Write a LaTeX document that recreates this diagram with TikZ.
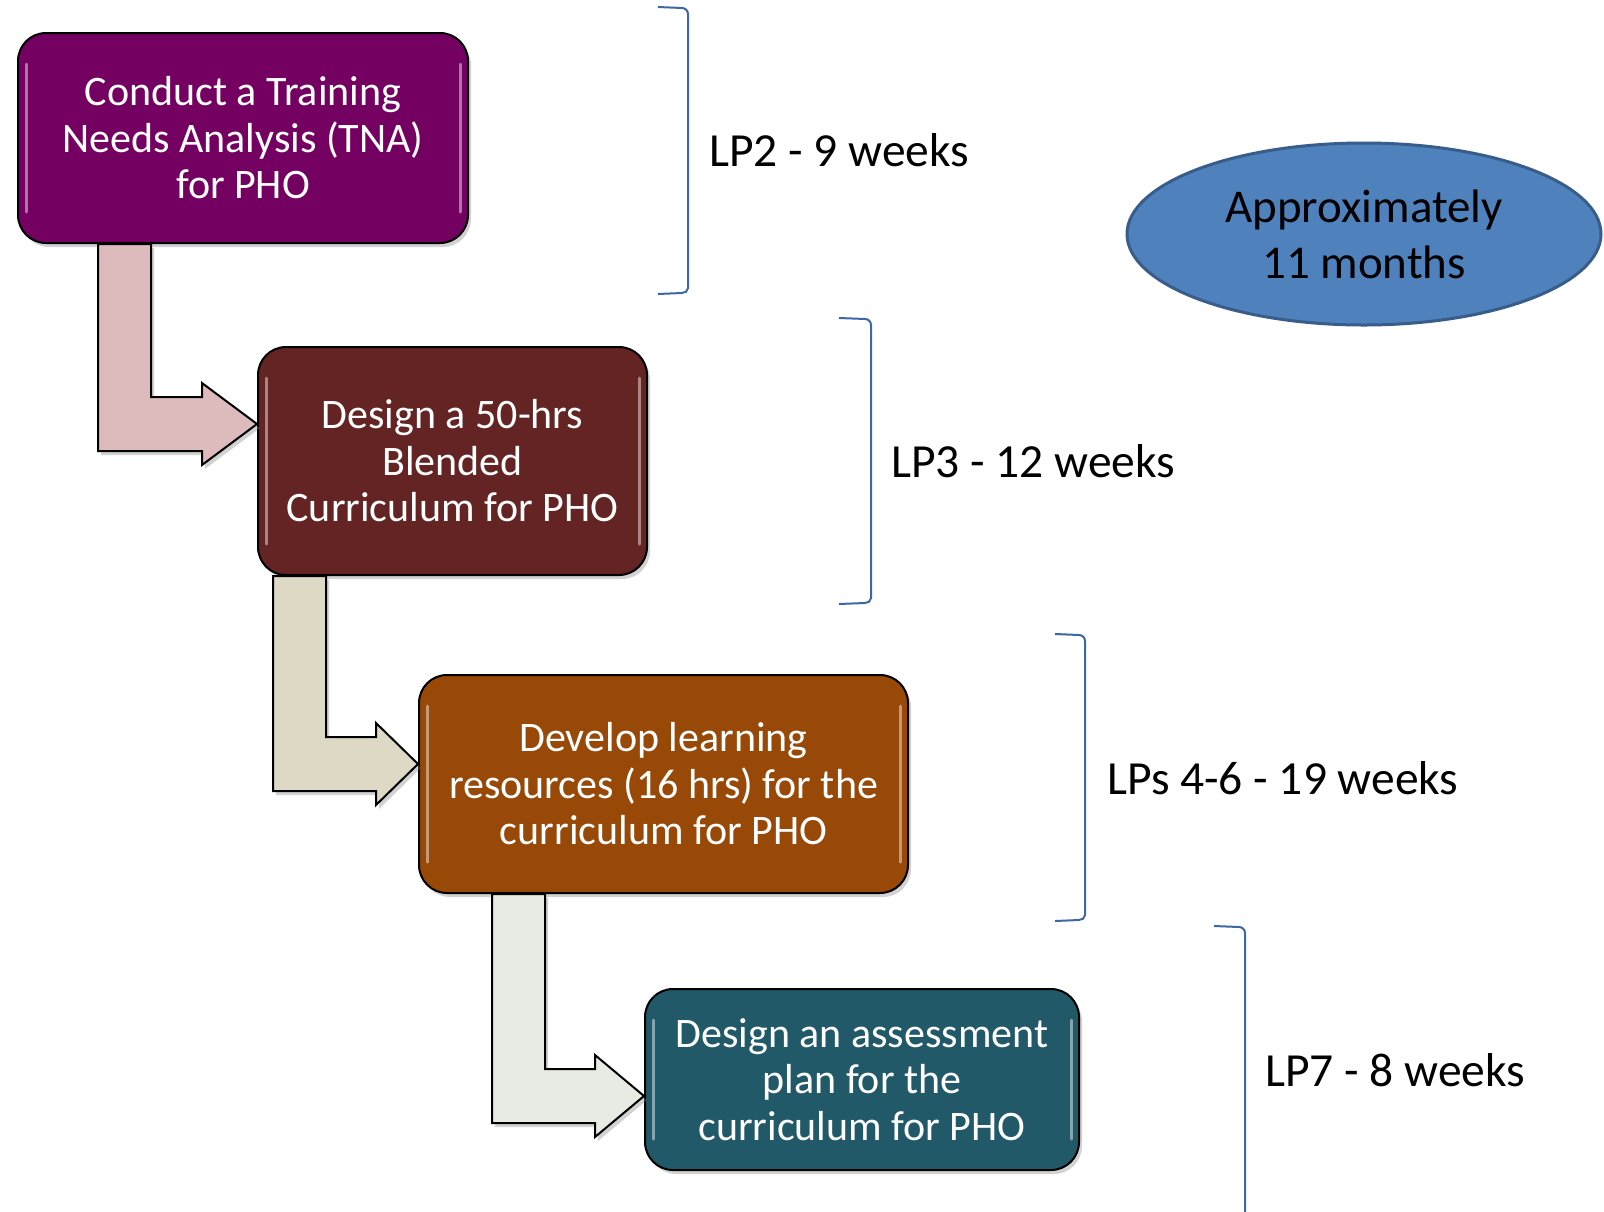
\documentclass[tikz,border=0pt]{standalone}
\usepackage{fontspec}
\setmainfont{Carlito}
\usetikzlibrary{shapes.geometric,shadows,calc}
\definecolor{boxA}{HTML}{740062}
\definecolor{boxB}{HTML}{632423}
\definecolor{boxC}{HTML}{984807}
\definecolor{boxD}{HTML}{215968}
\definecolor{arrA}{HTML}{DDBBBD}
\definecolor{arrB}{HTML}{DDD9C4}
\definecolor{arrC}{HTML}{E8EBE3}
\definecolor{ellF}{HTML}{4F81BD}
\definecolor{ellB}{HTML}{385D8A}
\definecolor{brk}{RGB}{62,104,165}
\begin{document}
\begin{tikzpicture}[x=1pt,y=-1pt,
  stepbox/.style={draw=black, line width=2pt, rounded corners=28pt, text=white,
    align=center, font=\fontsize{42}{46.5}\selectfont, inner sep=0pt,
    drop shadow={opacity=0.35,shadow xshift=3pt,shadow yshift=-4pt}},
  blockarrow/.style={draw=black, line width=2pt, line join=miter,
    drop shadow={opacity=0.35,shadow xshift=3pt,shadow yshift=-4pt}},
  gloss/.style={white, opacity=0.45, line width=3pt, line cap=round},
  bracket/.style={draw=brk, line width=2pt},
  lbl/.style={anchor=west, inner sep=0pt, font=\fontsize{47.5}{57}\selectfont}]
\useasboundingbox (0,0) rectangle (1604,1211);
\fill[white] (0,0) rectangle (1604,1211);

% boxes
\node[stepbox, fill=boxA, minimum width=450pt, minimum height=210pt] (b1) at (243,138)
  {Conduct a Training\\Needs Analysis (TNA)\\for PHO};
\node[stepbox, fill=boxB, minimum width=389pt, minimum height=228pt] (b2) at (452.5,461)
  {Design a 50-hrs\\Blended\\Curriculum for PHO};
\node[stepbox, fill=boxC, minimum width=489pt, minimum height=218pt] (b3) at (663.5,784)
  {Develop learning\\resources (16 hrs) for the\\curriculum for PHO};
\node[stepbox, fill=boxD, minimum width=434pt, minimum height=181pt] (b4) at (862,1079.5)
  {Design an assessment\\plan for the\\curriculum for PHO};

\foreach \b in {b1,b2,b3,b4}{
  \draw[gloss] ($(\b.north west)+(9,32)$) -- ($(\b.south west)+(9,-32)$);
  \draw[gloss] ($(\b.north east)+(-9,32)$) -- ($(\b.south east)+(-9,-32)$);
}

% block arrows
\coordinate (a1tip) at ($(b2.north west)+(0,78)$);
\coordinate (a1l) at ($(b1.south west)+(81,0)$);
\coordinate (a1r) at ($(b1.south west)+(134,0)$);
\draw[blockarrow, fill=arrA] (a1l) |- ($(a1tip)+(-55,27)$) -- ++(0,14) -- (a1tip)
  -- ($(a1tip)+(-55,-41)$) -- ++(0,14) -| (a1r) -- cycle;

\coordinate (a2tip) at ($(b3.north west)+(0,90)$);
\coordinate (a2l) at ($(b2.south west)+(16,0)$);
\coordinate (a2r) at ($(b2.south west)+(69,0)$);
\draw[blockarrow, fill=arrB] (a2l) |- ($(a2tip)+(-42,27)$) -- ++(0,14) -- (a2tip)
  -- ($(a2tip)+(-42,-41)$) -- ++(0,14) -| (a2r) -- cycle;

\coordinate (a3tip) at ($(b4.north west)+(0,108)$);
\coordinate (a3l) at ($(b3.south west)+(74,0)$);
\coordinate (a3r) at ($(b3.south west)+(127,0)$);
\draw[blockarrow, fill=arrC] (a3l) |- ($(a3tip)+(-49,27)$) -- ++(0,14) -- (a3tip)
  -- ($(a3tip)+(-49,-41)$) -- ++(0,14) -| (a3r) -- cycle;

% brackets
\draw[bracket] (658,7) -- (682,8) to[out=0,in=90] (688,14) -- (688,288)
  to[out=-90,in=0] (682,293) -- (658,294);
\draw[bracket] (839,318) -- (865,319) to[out=0,in=90] (871,325) -- (871,598)
  to[out=-90,in=0] (865,603) -- (839,604);
\draw[bracket] (1055,634) -- (1079,635) to[out=0,in=90] (1085,641) -- (1085,915)
  to[out=-90,in=0] (1079,920) -- (1055,921);
\draw[bracket] (1214,926) -- (1239,927) to[out=0,in=90] (1245,933) -- (1245,1215);

% labels
\node[lbl] (l1) at (709,150) {LP2 - 9 weeks};
\node[lbl] (l2) at (891,461) {LP3 - 12 weeks};
\node[lbl] (l3) at (1107,778) {LPs 4-6 - 19 weeks};
\node[lbl] (l4) at (1265,1070) {LP7 - 8 weeks};

% ellipse
\node[ellipse, draw=ellB, fill=ellF, line width=3pt, minimum width=474pt,
  minimum height=182pt, inner sep=0pt, align=center,
  font=\fontsize{47}{56}\selectfont] (ell) at (1364,234) {Approximately\\11 months};
\end{tikzpicture}
\end{document}
